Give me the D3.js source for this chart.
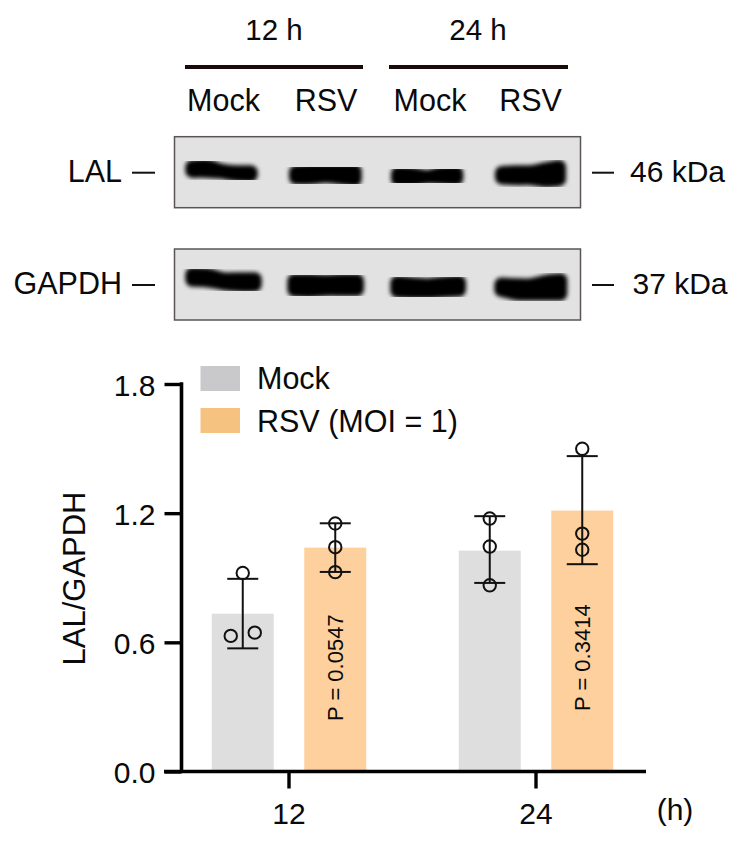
<!DOCTYPE html>
<html><head><meta charset="utf-8">
<script src="https://cdn.jsdelivr.net/npm/d3@7"></script>
<style>html,body{margin:0;padding:0;background:#fff}svg{display:block}text{font-family:"Liberation Sans",Arial,sans-serif;fill:#0a0a0a}</style>
</head><body><div id="c"></div>
<script>
const timeGroups = ["12", "24"];
const seriesNames = ["Mock", "RSV (MOI = 1)"];
const meanMock = [0.733, 1.026];
const meanRsv = [1.04, 1.212];
const errLowMock = [0.572, 0.876];
const errHighMock = [0.895, 1.186];
const errLowRsv = [0.927, 0.963];
const errHighRsv = [1.153, 1.465];
const pointsMock = [[0.630, 0.922, 0.645], [1.175, 1.045, 0.865]];
const pointsRsv = [[1.152, 1.042, 0.926], [1.499, 1.105, 1.03]];
const pointJitter = [[-1, 0, 1], [0, 0, 0]];
const pValues = ["P = 0.0547", "P = 0.3414"];
const yTicks = [0, 0.6, 1.2, 1.8];
const laneHeaders = ["Mock", "RSV", "Mock", "RSV"];
const timeHeaders = ["12 h", "24 h"];
const blotNames = ["LAL", "GAPDH"];
const blotSizes = ["46 kDa", "37 kDa"];
const lalStart = [10.8, 114.5, 216.5, 320.5];
const lalEnd = [83.2, 187.2, 288.8, 391.5];
const lalTop = [[24.2,23.5,27.8,29.5,29.5],[29.5,28.5,28.5,28.5,28.5],[30.8,31.8,34.2,30.8,30.2],[30.2,29.5,29.5,26.8,24.2]];
const lalBottom = [[40.2,40.2,41.2,43.5,44.2],[46.8,46.8,45.2,46.8,48.5],[48.5,48.5,46.2,46.8,47.8],[46.8,47.5,47.5,49.5,48.5]];
const gapdhStart = [10.8, 112.8, 215.8, 319.8];
const gapdhEnd = [87.2, 189.5, 291.5, 392.8];
const gapdhTop = [[19.5,20.2,24.2,24.2,24.2],[25.8,25.8,26.8,25.8,25.8],[27.8,29.2,30.2,28.5,27.5],[29.5,30.2,30.2,26.8,25.2]];
const gapdhBottom = [[36.8,37.5,40.2,41.8,41.8],[46.8,47.5,46.2,46.2,46.2],[47.8,48.5,48.5,47.5,46.8],[46.8,50.2,50.8,50.8,50.8]];

const W = 747, H = 841;
const svg = d3.select("#c").append("svg").attr("width", W).attr("height", H);
const defs = svg.append("defs");
defs.append("filter").attr("id", "blur").attr("x", "-20%").attr("y", "-50%").attr("width", "140%").attr("height", "200%")
  .append("feGaussianBlur").attr("stdDeviation", 1.9);

function txt(g, x, y, s, size, anchor) {
  return g.append("text").attr("x", x).attr("y", y).attr("font-size", size).attr("text-anchor", anchor || "middle").text(s);
}

/* ---- blot header ---- */
const blotX = d3.scaleLinear().domain([0, 406]).range([174.5, 580.5]);
const head = svg.append("g");
const headCx = [274, 478], headLine = [[185, 363], [389, 568]];
timeHeaders.forEach((t, i) => {
  txt(head, headCx[i], 40, t, 29.5);
  head.append("line").attr("x1", headLine[i][0]).attr("x2", headLine[i][1]).attr("y1", 67).attr("y2", 67)
    .attr("stroke", "#1a0a0a").attr("stroke-width", 4);
});
const laneCx = [223.5, 326, 430, 530.5];
laneHeaders.forEach((t, i) => txt(head, laneCx[i], 111, t, 30.5));

/* ---- blots ---- */
const blotTops = [136.7, 249];
const blotData = [
  {start: lalStart, end: lalEnd, top: lalTop, bottom: lalBottom},
  {start: gapdhStart, end: gapdhEnd, top: gapdhTop, bottom: gapdhBottom}
];
const nameEnd = 122, sizeX = [677.5, 680];
blotData.forEach((b, k) => {
  const y0 = blotTops[k];
  const blotY = d3.scaleLinear().domain([0, 71]).range([y0, y0 + 71]);
  const g = svg.append("g");
  g.append("rect").attr("x", blotX(0)).attr("y", blotY(0)).attr("width", blotX(406) - blotX(0)).attr("height", 71)
    .attr("fill", "#e2e2e2").attr("stroke", "#5a5554").attr("stroke-width", 1.5);
  const r = 7, grow = 1;
  b.start.forEach((s, i) => {
    const e = b.end[i];
    const pts = b.top[i].map((t, j) => ({x: s + r + (e - s - 2 * r) * j / 4, t: t + r - grow, b: b.bottom[i][j] - r + grow}));
    const area = d3.area().x(d => blotX(d.x)).y0(d => blotY(d.t)).y1(d => blotY(d.b)).curve(d3.curveCatmullRom);
    g.append("path").attr("d", area(pts)).attr("fill", "#050505").attr("stroke", "#050505")
      .attr("stroke-width", 2 * r).attr("stroke-linejoin", "round").attr("filter", "url(#blur)");
  });
  const cy = y0 + 36;
  txt(g, nameEnd, cy + 9, blotNames[k], 30.5, "end");
  g.append("line").attr("x1", 132).attr("x2", 155).attr("y1", cy).attr("y2", cy).attr("stroke", "#111").attr("stroke-width", 2);
  g.append("line").attr("x1", 592).attr("x2", 614).attr("y1", cy).attr("y2", cy).attr("stroke", "#111").attr("stroke-width", 2);
  txt(g, sizeX[k], cy + 9, blotSizes[k], 30);
});

/* ---- bar chart ---- */
const y = d3.scaleLinear().domain([0, 1.8]).range([771.5, 384]);
const x0 = d3.scaleBand().domain(timeGroups).range([165.5, 659.5]);
const x1 = d3.scaleBand().domain(seriesNames).range([-92.5, 92.5]).paddingInner(0.33).paddingOuter(0.165);
const barFill = {[seriesNames[0]]: "#dedede", [seriesNames[1]]: "#fdd09d"};
const legendFill = {[seriesNames[0]]: "#c9c9cb", [seriesNames[1]]: "#f6c27f"};
const pLift = [50.5, 60.5];

const rows = [];
timeGroups.forEach((t, i) => {
  rows.push({t, s: seriesNames[0], mean: meanMock[i], lo: errLowMock[i], hi: errHighMock[i], pts: pointsMock[i], jit: pointJitter[i]});
  rows.push({t, s: seriesNames[1], mean: meanRsv[i], lo: errLowRsv[i], hi: errHighRsv[i], pts: pointsRsv[i], jit: [0, 0, 0], p: pValues[i], lift: pLift[i]});
});
const cx = d => x0(d.t) + x0.bandwidth() / 2 + x1(d.s) + x1.bandwidth() / 2;

const plot = svg.append("g");
plot.selectAll("rect.bar").data(rows).join("rect").attr("class", "bar")
  .attr("x", d => cx(d) - x1.bandwidth() / 2).attr("width", x1.bandwidth())
  .attr("y", d => y(d.mean)).attr("height", d => y(0) - y(d.mean)).attr("fill", d => barFill[d.s]);

rows.forEach(d => {
  const c = cx(d), g = plot.append("g").attr("stroke", "#111").attr("stroke-width", 2).attr("fill", "none");
  g.append("line").attr("x1", c).attr("x2", c).attr("y1", y(d.lo)).attr("y2", y(d.hi));
  [d.lo, d.hi].forEach(v => g.append("line").attr("x1", c - 15.5).attr("x2", c + 15.5).attr("y1", y(v)).attr("y2", y(v)));
  d.pts.forEach((v, j) => g.append("circle").attr("cx", c + d.jit[j] * 12).attr("cy", y(v)).attr("r", 6.2));
  if (d.p) {
    plot.append("text").attr("transform", `translate(${c + 8},${y(0) - d.lift}) rotate(-90)`).attr("font-size", 22)
      .attr("text-anchor", "start").text(d.p);
  }
});

/* axes */
const yAxis = d3.axisLeft(y).tickValues(yTicks).tickFormat(d3.format(".1f")).tickSize(17).tickPadding(0);
const yG = svg.append("g").attr("transform", "translate(181.5,0)").call(yAxis);
yG.select(".domain").attr("stroke", "#000").attr("stroke-width", 3.6).attr("d", `M0,${y(1.8) - 1.8}V${y(0)}`);
yG.selectAll(".tick line").attr("stroke", "#000").attr("stroke-width", 3.4);
yG.selectAll(".tick text").attr("font-size", 30).attr("x", -26).attr("dy", "0.38em").attr("font-family", null);

const xAxis = d3.axisBottom(x0).tickSize(17).tickPadding(0);
const xG = svg.append("g").attr("transform", `translate(0,${y(0)})`).call(xAxis);
xG.select(".domain").attr("stroke", "#000").attr("stroke-width", 3.6).attr("d", "M164,0H646");
xG.selectAll(".tick line").attr("stroke", "#000").attr("stroke-width", 3.4);
xG.selectAll(".tick text").attr("font-size", 30).attr("y", 52.5).attr("dy", 0).attr("font-family", null);
txt(svg, 675, 820, "(h)", 30);

svg.append("text").attr("transform", `translate(84.5,578.5) rotate(-90)`).attr("font-size", 31)
  .attr("text-anchor", "middle").text("LAL/GAPDH");

const leg = svg.append("g");
const legY = d3.scalePoint().domain(seriesNames).range([366, 408]);
seriesNames.forEach((s, i) => {
  leg.append("rect").attr("x", 200.5).attr("y", legY(s)).attr("width", 39.5).attr("height", 25).attr("fill", legendFill[s]);
  txt(leg, 257, legY(s) + 22.5 + i, s, 30.5, "start");
});
</script>
</body></html>
